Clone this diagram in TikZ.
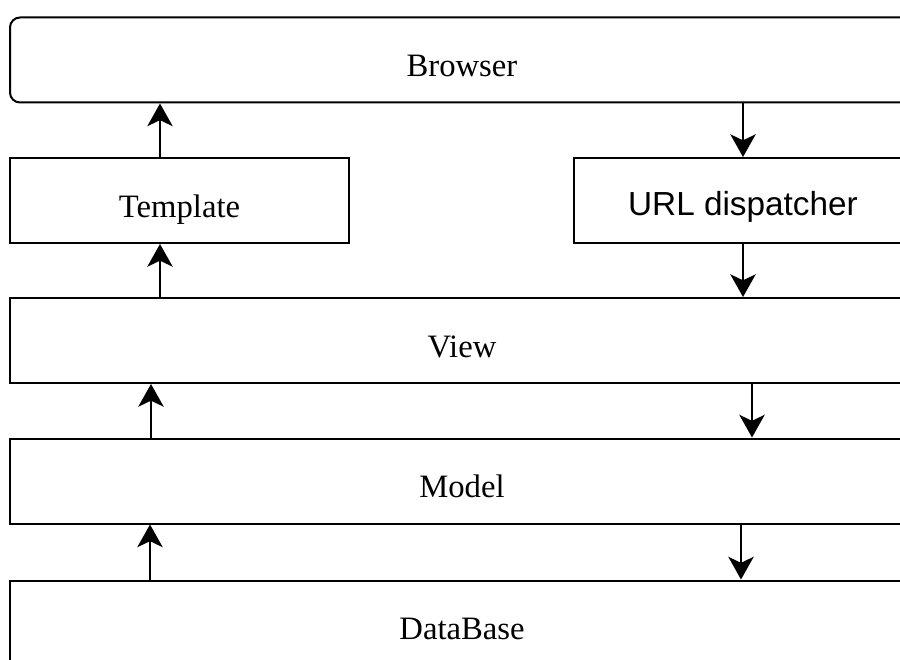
\documentclass[tikz,border=0pt]{standalone}
\usepackage{fontspec}
\setmainfont{Liberation Serif}
\newfontfamily\arialfont{Liberation Sans}
\usepackage{tikz}
\usetikzlibrary{arrows.meta}

\tikzset{
    layer/.style={draw, line width=1.5pt, inner sep=0pt, minimum height=63.75pt,
        text height=25pt, text depth=0pt, font=\fontsize{24.5}{28}\selectfont},
    widelayer/.style={layer, minimum width=678pt},
    halflayer/.style={layer, minimum width=254pt},
    arr/.style={line width=1.5pt, -{Stealth[length=17pt, width=19pt, inset=4.5pt]}}
}

\begin{document}
\begin{tikzpicture}[x=0.75pt, y=-0.75pt]
    \useasboundingbox (0,0) rectangle (900,660);
    \clip (0,0) rectangle (900,660);
    \node[widelayer, rounded corners=7.5pt] (browser) at (462,60) {Browser};
    \node[halflayer] (tmpl) at (179.5,200.5) {Template};
    \node[halflayer, text height=22pt, font=\fontsize{25}{28}\arialfont] (urldisp) at (743,200.5) {URL dispatcher};
    \node[widelayer] (view) at (462,340.5) {View};
    \node[widelayer] (model) at (462,481) {Model};
    \node[widelayer] (db) at (462,623) {DataBase};
    % upward path
    \draw[arr] (tmpl.north -| 160,0) -- (browser.south -| 160,0);
    \draw[arr] (view.north -| 160,0) -- (tmpl.south -| 160,0);
    \draw[arr] (model.north -| 151,0) -- (view.south -| 151,0);
    \draw[arr] (db.north -| 150,0) -- (model.south -| 150,0);
    % downward path
    \draw[arr] (browser.south -| urldisp.north) -- (urldisp.north);
    \draw[arr] (urldisp.south) -- (view.north -| urldisp.south);
    \draw[arr] (view.south -| 752,0) -- (model.north -| 752,0);
    \draw[arr] (model.south -| 741,0) -- (db.north -| 741,0);
\end{tikzpicture}
\end{document}
